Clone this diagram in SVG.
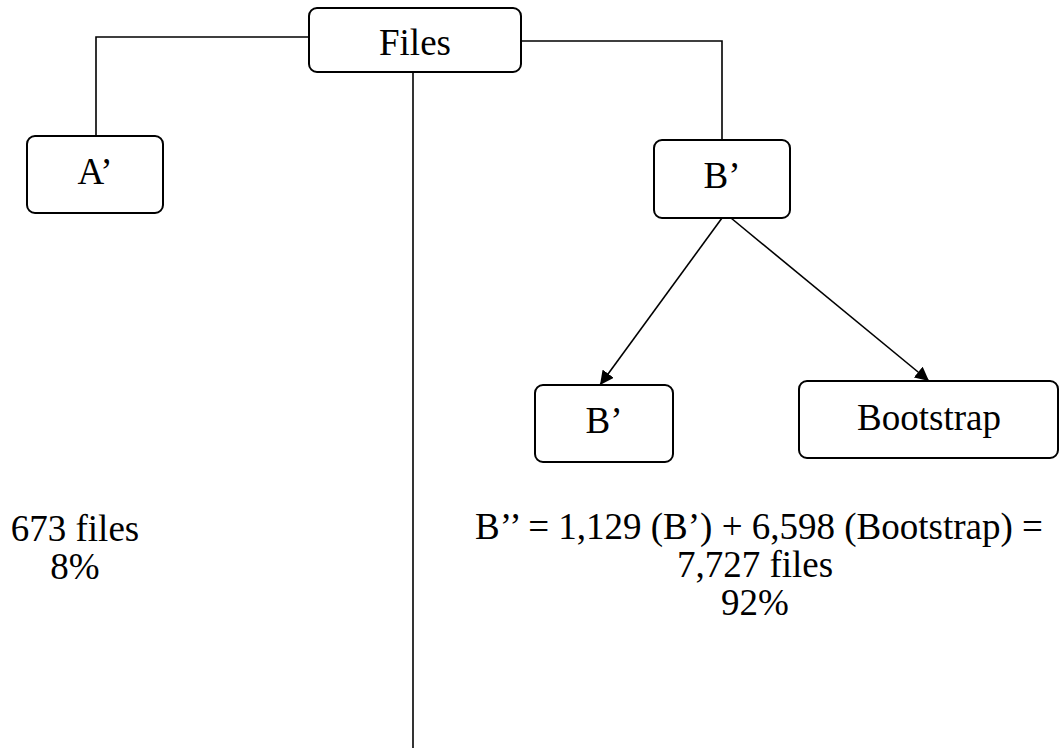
<svg xmlns="http://www.w3.org/2000/svg" width="1061" height="755" viewBox="0 0 1061 755">
<style>
.box{fill:#fff;stroke:#000;stroke-width:2}
.ln{fill:none;stroke:#000;stroke-width:1.6}
.t{font-family:'Liberation Serif','Times New Roman','DejaVu Serif',serif;font-size:37px;fill:#000;text-anchor:middle}
</style>
<defs>
<marker id="ah" viewBox="0 0 10 10" refX="10" refY="5" markerWidth="14" markerHeight="14" markerUnits="userSpaceOnUse" orient="auto">
<path d="M0,0 L10,5 L0,10 z" fill="#000"/>
</marker>
</defs>
<rect width="1061" height="755" fill="#fff"/>
<g id="connectors">
<polyline class="ln" points="309,37 96,37 96,136"/>
<polyline class="ln" points="521,41 722,41 722,140"/>
<line class="ln" x1="413" y1="72" x2="413" y2="748"/>
<line class="ln" x1="722" y1="218" x2="600" y2="385" marker-end="url(#ah)"/>
<line class="ln" x1="731" y1="218" x2="929" y2="381" marker-end="url(#ah)"/>
</g>
<g id="files">
<rect class="box" x="309" y="8" width="212" height="64" rx="8"/>
<text class="t" x="415" y="55">Files</text>
</g>
<g id="a-prime">
<rect class="box" x="27" y="136" width="136" height="77" rx="8"/>
<text class="t" x="95" y="184">A’</text>
</g>
<g id="b-prime">
<rect class="box" x="654" y="140" width="136" height="78" rx="8"/>
<text class="t" x="722" y="188">B’</text>
</g>
<g id="b-prime-2">
<rect class="box" x="535" y="385" width="138" height="77" rx="8"/>
<text class="t" x="604" y="433">B’</text>
</g>
<g id="bootstrap">
<rect class="box" x="799" y="381" width="259" height="77" rx="8"/>
<text class="t" x="929" y="430">Bootstrap</text>
</g>
<g id="label-a">
<text class="t" x="75" y="541">673 files</text>
<text class="t" x="75" y="579">8%</text>
</g>
<g id="label-b">
<text class="t" x="759" y="539">B’’ = 1,129 (B’) + 6,598 (Bootstrap) =</text>
<text class="t" x="755" y="577">7,727 files</text>
<text class="t" x="755" y="615">92%</text>
</g>
</svg>
